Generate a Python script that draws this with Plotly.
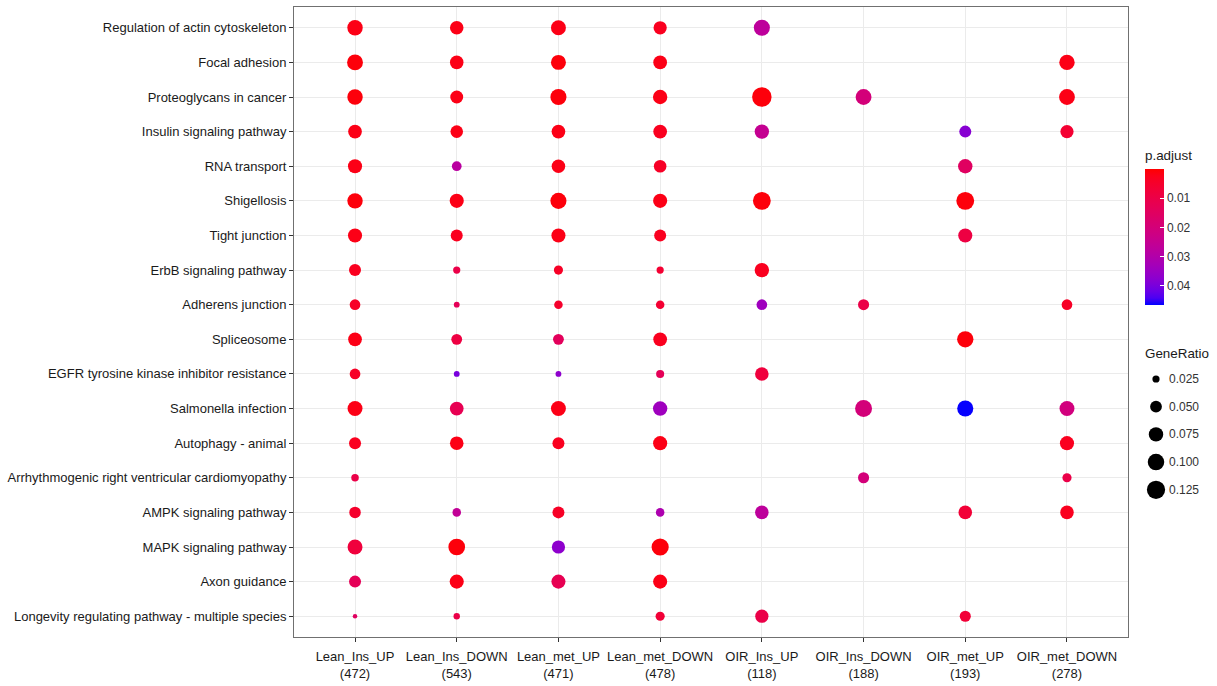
import math
import plotly.graph_objects as go

# ---------------------------------------------------------------- data
groups = ["Lean_Ins_UP", "Lean_Ins_DOWN", "Lean_met_UP", "Lean_met_DOWN",
          "OIR_Ins_UP", "OIR_Ins_DOWN", "OIR_met_UP", "OIR_met_DOWN"]
group_counts = [472, 543, 471, 478, 118, 188, 193, 278]

pathways = [
    "Regulation of actin cytoskeleton",
    "Focal adhesion",
    "Proteoglycans in cancer",
    "Insulin signaling pathway",
    "RNA transport",
    "Shigellosis",
    "Tight junction",
    "ErbB signaling pathway",
    "Adherens junction",
    "Spliceosome",
    "EGFR tyrosine kinase inhibitor resistance",
    "Salmonella infection",
    "Autophagy - animal",
    "Arrhythmogenic right ventricular cardiomyopathy",
    "AMPK signaling pathway",
    "MAPK signaling pathway",
    "Axon guidance",
    "Longevity regulating pathway - multiple species",
]

N = None
# GeneRatio: one row per pathway, one column per group (None = not enriched)
gene_ratio = [
    [0.087, 0.066, 0.081, 0.063, 0.095, N,     N,     N],
    [0.092, 0.066, 0.081, 0.068, N,     N,     N,     0.087],
    [0.087, 0.060, 0.095, 0.075, 0.145, 0.092, N,     0.092],
    [0.068, 0.057, 0.068, 0.068, 0.075, N,     0.052, 0.063],
    [0.072, 0.036, 0.066, 0.057, N,     N,     0.075, N],
    [0.087, 0.072, 0.095, 0.072, 0.119, N,     0.119, N],
    [0.072, 0.052, 0.072, 0.052, N,     N,     0.072, N],
    [0.052, 0.025, 0.033, 0.025, 0.075, N,     N,     N],
    [0.042, 0.022, 0.030, 0.030, 0.042, 0.045, N,     0.042],
    [0.068, 0.043, 0.043, 0.068, N,     N,     0.098, N],
    [0.042, 0.022, 0.022, 0.028, 0.066, N,     N,     N],
    [0.081, 0.068, 0.081, 0.075, N,     0.106, 0.095, 0.081],
    [0.052, 0.066, 0.052, 0.072, N,     N,     N,     0.072],
    [0.026, N,     N,     N,     N,     0.045, N,     0.033],
    [0.048, 0.030, 0.052, 0.030, 0.066, N,     0.066, 0.066],
    [0.081, 0.103, 0.063, 0.110, N,     N,     N,     N],
    [0.052, 0.072, 0.072, 0.072, N,     N,     N,     N],
    [0.021, 0.023, N,     0.033, 0.063, N,     0.045, N],
]

# adjusted p-value, same layout as gene_ratio
p_adjust = [
    [0.002, 0.002, 0.002, 0.003, 0.027, N,     N,      N],
    [0.001, 0.002, 0.001, 0.002, N,     N,     N,      0.002],
    [0.001, 0.002, 0.001, 0.002, 0.001, 0.020, N,      0.002],
    [0.002, 0.002, 0.002, 0.003, 0.025, N,     0.038,  0.006],
    [0.002, 0.028, 0.002, 0.004, N,     N,     0.015,  N],
    [0.001, 0.002, 0.001, 0.002, 0.001, N,     0.001,  N],
    [0.002, 0.003, 0.002, 0.003, N,     N,     0.009,  N],
    [0.003, 0.010, 0.004, 0.006, 0.003, N,     N,      N],
    [0.004, 0.013, 0.005, 0.006, 0.034, 0.010, N,      0.004],
    [0.002, 0.009, 0.014, 0.003, N,     N,     0.001,  N],
    [0.004, 0.040, 0.037, 0.013, 0.008, N,     N,      N],
    [0.002, 0.012, 0.002, 0.034, N,     0.020, 0.0463, 0.021],
    [0.003, 0.002, 0.003, 0.002, N,     N,     N,      0.003],
    [0.010, N,     N,     N,     N,     0.020, N,      0.010],
    [0.005, 0.026, 0.004, 0.031, 0.027, N,     0.007,  0.003],
    [0.008, 0.001, 0.037, 0.001, N,     N,     N,      N],
    [0.013, 0.002, 0.012, 0.002, N,     N,     N,      N],
    [0.015, 0.010, N,     0.007, 0.010, N,     0.007,  N],
]

size_breaks = [0.025, 0.050, 0.075, 0.100, 0.125]
p_breaks = [0.01, 0.02, 0.03, 0.04]

# ---------------------------------------------------------------- layout constants
FIG_W, FIG_H = 1217, 686
M_L, M_R, M_T, M_B = 294, 10, 7, 49
PLOT_W = FIG_W - M_L - M_R
PLOT_H = FIG_H - M_T - M_B
PANEL_RIGHT = 1128
FONT = "Liberation Sans Narrow, Arial Narrow, Liberation Sans, Arial, sans-serif"
TEXT_COLOR = "#1a1a1a"
AXIS_FONT_SIZE = 13


def px_x(x):
    return (x - M_L) / PLOT_W


def px_y(y):
    return (FIG_H - M_B - y) / PLOT_H


# ---------------------------------------------------------------- scales
D_MIN, D_MAX = 4.5, 19.5  # marker diameter range (px)
all_ratios = [v for row in gene_ratio for v in row if v is not None]
G_MIN, G_MAX = min(all_ratios), max(all_ratios)


def ratio_to_diameter(g):
    # area scale: diameter grows with sqrt of the rescaled ratio
    t = max(0.0, (g - G_MIN) / (G_MAX - G_MIN))
    return D_MIN + (D_MAX - D_MIN) * math.sqrt(t)


P_MIN, P_MAX = 0.0, 0.0465


def _lin(c):
    c = c / 255.0
    return c / 12.92 if c <= 0.04045 else ((c + 0.055) / 1.055) ** 2.4


def _gam(c):
    c = 12.92 * c if c <= 0.0031308 else 1.055 * c ** (1 / 2.4) - 0.055
    return max(0, min(255, round(c * 255)))


WHITE = (0.95047, 1.0, 1.08883)


def rgb_to_lab(rgb):
    r, g, b = (_lin(c) for c in rgb)
    x = 0.4124564 * r + 0.3575761 * g + 0.1804375 * b
    y = 0.2126729 * r + 0.7151522 * g + 0.0721750 * b
    z = 0.0193339 * r + 0.1191920 * g + 0.9503041 * b

    def f(t):
        return t ** (1 / 3) if t > 216 / 24389 else (24389 / 27 * t + 16) / 116

    fx, fy, fz = f(x / WHITE[0]), f(y / WHITE[1]), f(z / WHITE[2])
    return (116 * fy - 16, 500 * (fx - fy), 200 * (fy - fz))


def lab_to_rgb(lab):
    L, a, b = lab
    fy = (L + 16) / 116
    fx = fy + a / 500
    fz = fy - b / 200

    def finv(t):
        return t ** 3 if t ** 3 > 216 / 24389 else (116 * t - 16) / (24389 / 27)

    x, y, z = finv(fx) * WHITE[0], finv(fy) * WHITE[1], finv(fz) * WHITE[2]
    r = 3.2404542 * x - 1.5371385 * y - 0.4985314 * z
    g = -0.9692660 * x + 1.8760108 * y + 0.0415560 * z
    bb = 0.0556434 * x - 0.2040259 * y + 1.0572252 * z
    return tuple(_gam(max(0.0, c)) for c in (r, g, bb))


LOW_LAB = rgb_to_lab((255, 0, 0))   # small p.adjust
HIGH_LAB = rgb_to_lab((0, 0, 255))  # large p.adjust

# colour axis runs on -p so the bar reads 0.01 at the top down to 0.04
colorscale = []
for i in range(21):
    s = i / 20
    t = 1 - s  # 0 = red end, 1 = blue end
    lab = tuple(LOW_LAB[k] + (HIGH_LAB[k] - LOW_LAB[k]) * t for k in range(3))
    colorscale.append([s, "rgb(%d,%d,%d)" % lab_to_rgb(lab)])

# ---------------------------------------------------------------- points
xs, ys, sizes, colors, hover = [], [], [], [], []
for r, name in enumerate(pathways):
    for c, grp in enumerate(groups):
        g = gene_ratio[r][c]
        p = p_adjust[r][c]
        if g is None:
            continue
        xs.append(c)
        ys.append(r)
        sizes.append(ratio_to_diameter(g))
        colors.append(-p)
        hover.append(f"{name}<br>{grp}<br>GeneRatio={g}<br>p.adjust={p}")

fig = go.Figure()

fig.add_trace(go.Scatter(
    x=xs, y=ys, mode="markers",
    marker=dict(
        size=sizes, sizemode="diameter", color=colors,
        colorscale=colorscale, cmin=-P_MAX, cmax=-P_MIN,
        line=dict(width=0), opacity=1,
        colorbar=dict(
            lenmode="pixels", len=136, thicknessmode="pixels", thickness=19,
            x=px_x(1145), xanchor="left", xpad=0,
            y=px_y(169), yanchor="top", ypad=0,
            outlinewidth=0,
            tickvals=[-v for v in p_breaks],
            ticktext=["%.2f" % v for v in p_breaks],
            ticks="inside", ticklen=4, tickcolor="white", tickwidth=1,
            tickfont=dict(family=FONT, size=12, color="#333333"),
        ),
    ),
    text=hover, hoverinfo="text", showlegend=False,
))

# GeneRatio size legend
fig.add_trace(go.Scatter(
    x=[0] * len(size_breaks), y=size_breaks, mode="markers",
    marker=dict(size=[ratio_to_diameter(v) for v in size_breaks],
                sizemode="diameter", color="#000000", opacity=1,
                line=dict(width=0)),
    xaxis="x2", yaxis="y2", hoverinfo="skip", showlegend=False,
))

annotations = []
for v in size_breaks:
    annotations.append(dict(
        x=px_x(1167), xref="paper", y=v, yref="y2",
        text="%.3f" % v, showarrow=False, xanchor="left", yanchor="middle",
        font=dict(family=FONT, size=12, color="#333333"),
    ))
annotations.append(dict(
    x=px_x(1143), xref="paper", y=px_y(155), yref="paper",
    text="p.adjust", showarrow=False, xanchor="left", yanchor="middle",
    font=dict(family=FONT, size=13.4, color=TEXT_COLOR),
))
annotations.append(dict(
    x=px_x(1143), xref="paper", y=px_y(353), yref="paper",
    text="GeneRatio", showarrow=False, xanchor="left", yanchor="middle",
    font=dict(family=FONT, size=13.4, color=TEXT_COLOR),
))

x_labels = [f"{g}<br>({n})" for g, n in zip(groups, group_counts)]
step = 27.7
leg_top = 379 - step / 2
leg_bot = leg_top + step * len(size_breaks)

fig.update_layout(
    width=FIG_W, height=FIG_H,
    margin=dict(l=M_L, r=M_R, t=M_T, b=M_B, autoexpand=False),
    paper_bgcolor="white", plot_bgcolor="white",
    font=dict(family=FONT, color=TEXT_COLOR),
    xaxis=dict(
        domain=[0, (PANEL_RIGHT - M_L) / PLOT_W],
        range=[-0.6, len(groups) - 0.4],
        tickvals=list(range(len(groups))), ticktext=x_labels, tickangle=0,
        tickfont=dict(family=FONT, size=AXIS_FONT_SIZE, color=TEXT_COLOR),
        ticklabelstandoff=3,
        showgrid=True, gridcolor="#ebebeb", gridwidth=1, zeroline=False,
        showline=True, linecolor="#707070", linewidth=1, mirror=True,
        ticks="outside", ticklen=4, tickcolor="#333333", tickwidth=1,
        fixedrange=True,
    ),
    yaxis=dict(
        domain=[0, 1],
        range=[len(pathways) - 0.4, -0.6],
        tickvals=list(range(len(pathways))), ticktext=pathways,
        tickfont=dict(family=FONT, size=AXIS_FONT_SIZE, color=TEXT_COLOR),
        showgrid=True, gridcolor="#ebebeb", gridwidth=1, zeroline=False,
        showline=True, linecolor="#707070", linewidth=1, mirror=True,
        ticks="outside", ticklen=4, tickcolor="#333333", tickwidth=1,
        fixedrange=True,
    ),
    xaxis2=dict(
        domain=[px_x(1146), px_x(1166)], range=[-1, 1], anchor="y2",
        visible=False, fixedrange=True,
    ),
    yaxis2=dict(
        domain=[px_y(leg_bot), px_y(leg_top)],
        range=[size_breaks[-1] + 0.0125, size_breaks[0] - 0.0125],
        anchor="x2", visible=False, fixedrange=True,
    ),
    annotations=annotations,
)

fig.write_html("out.html")
